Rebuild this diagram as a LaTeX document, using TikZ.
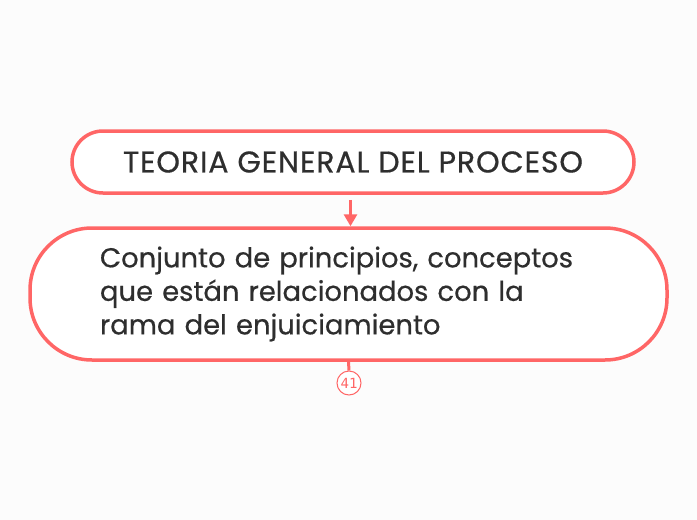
\documentclass[tikz,border=0pt]{standalone}
\usepackage{fontspec}
\setmainfont{Poppins}[FakeBold=0.5]
\setmonofont{DejaVu Sans Mono}
\usetikzlibrary{arrows.meta}
\definecolor{mapred}{HTML}{FF6666}
\definecolor{maptext}{HTML}{2E2E2E}
\definecolor{mapback}{HTML}{FCFCFC}
\tikzset{
  topic/.style={draw=mapred, line width=3.5pt, fill=white, rounded corners=31pt,
    minimum width=562pt, minimum height=62pt, text=maptext,
    font=\fontsize{30}{34}\selectfont\addfontfeatures{LetterSpace=3}},
  subtopic/.style={draw=mapred, line width=3.5pt, fill=white, rounded corners=62pt,
    minimum width=637pt, minimum height=132pt, text=maptext, align=left,
    text width=497pt, font=\fontsize{27.4}{33.5}\selectfont},
  link/.style={draw=mapred, line width=3pt},
  counter/.style={circle, draw=mapred, line width=1pt, minimum size=24pt, inner sep=0pt,
    text=mapred, fill=white, font=\ttfamily\fontsize{14}{14}\selectfont}
}
\begin{document}
\begin{tikzpicture}[x=1pt,y=-1pt]
\fill[mapback] (0,0) rectangle (697,520);
\useasboundingbox (0,0) rectangle (697,520);
\node[topic] (teoria) at (353,162) {TEORIA GENERAL DEL PROCESO};
\node[subtopic] (conjunto) at (348.5,294) {Conjunto de principios, conceptos\\que están relacionados con la\\rama del enjuiciamiento};
\draw[link, -{Triangle[length=12pt,width=13pt]}, shorten <=5pt] (teoria.south -| 350.5,0) -- (conjunto.north -| 350.5,0);
\node[counter] (num) at (349,383) {41};
\draw[link] (conjunto.south) -- (num.north);
\end{tikzpicture}
\end{document}
